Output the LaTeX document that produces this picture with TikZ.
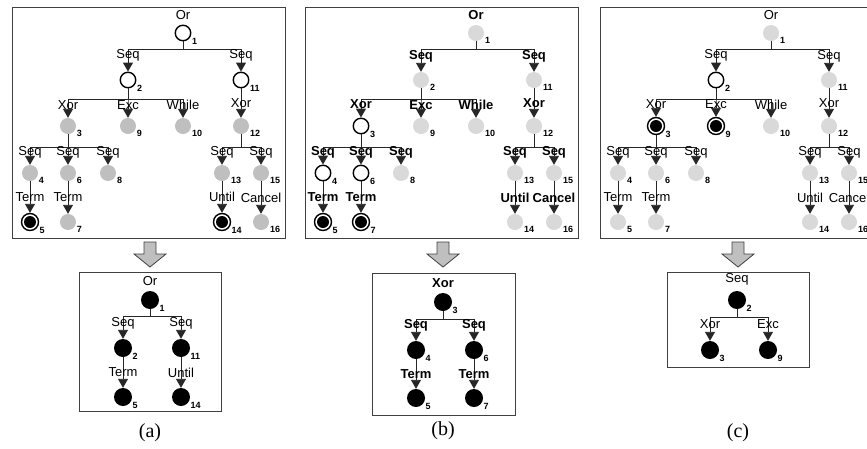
\documentclass[tikz,border=0pt]{standalone}
\usepackage{fontspec}
\setmainfont{Liberation Serif}
\setsansfont{Liberation Sans}
\usepackage{tikz}
\usetikzlibrary{positioning,arrows.meta}

\tikzset{
  lab/.style={font=\sffamily\fontsize{13}{13}\selectfont, inner sep=0pt},
  num/.style={font=\sffamily\bfseries\fontsize{9}{9}\selectfont, inner sep=0pt, anchor=west, xshift=3pt, yshift=-2pt},
  link/.style={draw=black!85, line width=0.9pt, -{Triangle[width=10pt,length=9pt]}},
  ring/.style={circle, draw=black, line width=1.4pt, fill=white, minimum size=15.5pt, inner sep=0pt},
  hit/.style={ring, minimum size=17pt, path picture={\fill[black] (path picture bounding box.center) circle (6pt);}},
  done/.style={circle, fill=black, minimum size=18pt, inner sep=0pt},
  panel/.style={draw=black!75, line width=1pt},
  blockarrow/.style={draw=black!75, fill=black!25, line width=0.8pt},
  caption/.style={font=\fontsize{20}{20}\selectfont, inner sep=0pt},
  % nodes that stand out in each of the three upper trees
  look-a1/.style=ring, look-a2/.style=ring, look-a11/.style=ring,
  look-a5/.style=hit, look-a14/.style=hit,
  look-b3/.style=ring, look-b4/.style=ring, look-b6/.style=ring,
  look-b5/.style=hit, look-b7/.style=hit,
  look-c2/.style=ring, look-c3/.style=hit, look-c9/.style=hit,
}

\begin{document}
\begin{tikzpicture}[x=1pt, y=-1pt]
\useasboundingbox (0,0) rectangle (867,448);
\clip (0,0) rectangle (867,448);

% Upper trees, one per panel
\foreach \p/\dx/\g/\w in {a/0/black!25/\mdseries, b/293/black!15/\bfseries, c/588/black!15/\mdseries} {
\begin{scope}[xshift=\dx, idle/.style={circle, fill=\g, minimum size=16pt, inner sep=0pt},
  lab/.append style={font=\sffamily\w\fontsize{13}{13}\selectfont}]
\draw[panel] (12,7) rectangle (285,238);

\foreach \i/\x/\y in {1/183/33, 2/128/80, 11/241/80, 3/68/126, 9/128/126, 10/183/126,
  12/241/126, 4/30/173, 6/68/173, 8/108/173, 13/222/173, 15/261/173,
  5/30/222, 7/68/222, 14/222/222, 16/261/222}
  \node[idle, look-\p\i/.try, label={[num]-45:\i}] (\p\i) at (\x,\y) {};

\node[lab, above=5pt of \p1] (\p-or) {Or};

% forks
\foreach \s/\t/\b/\l in {1/2/49/Seq, 1/11/49/Seq, 2/3/99/Xor, 2/9/99/Exc, 2/10/99/While,
  3/4/147/Seq, 3/6/147/Seq, 3/8/147/Seq, 12/13/147/Seq, 12/15/147/Seq}
  \draw[link] (\p\s) |- (\p\t |- 0,\b) -- node[lab, pos=.3] {\l} (\p\t);
% single steps
\foreach \s/\t/\l in {11/12/Xor, 4/5/Term, 6/7/Term, 13/14/Until, 15/16/Cancel}
  \draw[link] (\p\s) -- node[lab] {\l} (\p\t);
\end{scope}
}

% Block arrows
\foreach \x in {150,443,738}
  \draw[blockarrow] (\x-6,242) -- (\x+6,242) -- (\x+6,254) -- (\x+16,254) -- (\x,267)
    -- (\x-16,254) -- (\x-6,254) -- cycle;

% Result (a)
\draw[panel] (79,272) rectangle (221,411);
\node[done, label={[num]-45:1}] (ra1) at (150,300) {};
\node[done, label={[num]-45:2}] (ra2) at (123,348) {};
\node[done, label={[num]-45:11}] (ra11) at (181,348) {};
\node[done, label={[num]-45:5}] (ra5) at (123,397) {};
\node[done, label={[num]-45:14}] (ra14) at (181,397) {};
\node[lab, above=5pt of ra1] (ra-or) {Or};
\draw[link] (ra1) |- (ra2 |- 0,316) -- node[lab, pos=.3] {Seq} (ra2);
\draw[link] (ra1) |- (ra11 |- 0,316) -- node[lab, pos=.3] {Seq} (ra11);
\draw[link] (ra2) -- node[lab] {Term} (ra5);
\draw[link] (ra11) -- node[lab] {Until} (ra14);

% Result (b)
\begin{scope}[lab/.append style={font=\sffamily\bfseries\fontsize{13}{13}\selectfont}]
\draw[panel] (372,273) rectangle (515,415);
\node[done, label={[num]-45:3}] (rb3) at (443,302) {};
\node[done, label={[num]-45:4}] (rb4) at (416,350) {};
\node[done, label={[num]-45:6}] (rb6) at (474,350) {};
\node[done, label={[num]-45:5}] (rb5) at (416,398) {};
\node[done, label={[num]-45:7}] (rb7) at (474,398) {};
\node[lab, above=5pt of rb3] (rb-xor) {Xor};
\draw[link] (rb3) |- (rb4 |- 0,319) -- node[lab, pos=.3] {Seq} (rb4);
\draw[link] (rb3) |- (rb6 |- 0,319) -- node[lab, pos=.3] {Seq} (rb6);
\draw[link] (rb4) -- node[lab] {Term} (rb5);
\draw[link] (rb6) -- node[lab] {Term} (rb7);
\end{scope}

% Result (c)
\draw[panel] (667,272) rectangle (809,367);
\node[done, label={[num]-45:2}] (rc2) at (737,300) {};
\node[done, label={[num]-45:3}] (rc3) at (710,350) {};
\node[done, label={[num]-45:9}] (rc9) at (768,350) {};
\node[lab, above=5pt of rc2] (rc-seq) {Seq};
\draw[link] (rc2) |- (rc3 |- 0,317) -- node[lab, pos=.3] {Xor} (rc3);
\draw[link] (rc2) |- (rc9 |- 0,317) -- node[lab, pos=.3] {Exc} (rc9);

% Captions
\node[caption] (cap-a) at (150,433) {(a)};
\node[caption] (cap-b) at (443,431) {(b)};
\node[caption] (cap-c) at (738,433) {(c)};
\end{tikzpicture}
\end{document}
